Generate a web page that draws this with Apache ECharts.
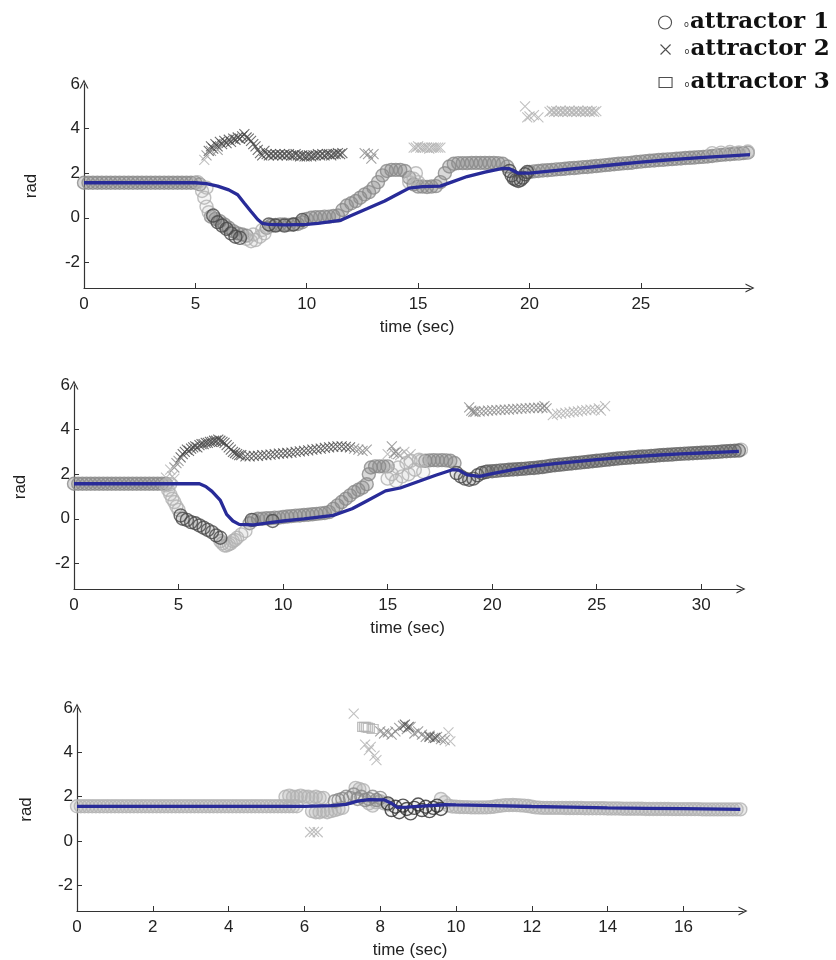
<!DOCTYPE html>
<html><head><meta charset="utf-8">
<script src="https://cdn.jsdelivr.net/npm/echarts@6/dist/echarts.min.js"></script>
<style>html,body{margin:0;padding:0;background:#fff}#c{width:836px;height:960px}</style>
</head><body><div id="c"></div>
<script>
// ---------- tick labels ----------
const P1_TIME_TICKS = [0, 5, 10, 15, 20, 25];
const P2_TIME_TICKS = [0, 5, 10, 15, 20, 25, 30];
const P3_TIME_TICKS = [0, 2, 4, 6, 8, 10, 12, 14, 16];
const RAD_TICKS = [-2, 0, 2, 4, 6];
const X_MAX = [29.9, 31.9, 17.57];
const Y_MIN = -3.15, Y_MAX = 6;
const SERIES_NAMES = ['attractor 1', 'attractor 2', 'attractor 3'];

// ---------- panel 1 (t, rad) ----------
const P1_A1_MID = [[0,1.57],[0.2,1.57],[0.4,1.57],[0.6,1.57],[0.8,1.57],[1,1.57],[1.2,1.57],[1.4,1.57],[1.6,1.57],[1.8,1.57],[2,1.57],[2.2,1.57],[2.4,1.57],[2.6,1.57],[2.8,1.57],[3,1.57],[3.2,1.57],[3.4,1.57],[3.6,1.57],[3.8,1.57],[4,1.57],[4.2,1.57],[4.4,1.57],[4.6,1.57],[4.8,1.57],[5,1.57],
[5.2,1.5],[5.7,0.05],[5.9,-0.05],[6.1,-0.15],[6.3,-0.3],[6.5,-0.45],[6.7,-0.6],[6.9,-0.7],[7.1,-0.75],[7.3,-0.8],
[8.2,-0.45],[8.4,-0.35],[8.6,-0.32],[8.8,-0.3],[9,-0.3],[9.2,-0.32],[9.4,-0.3],[9.6,-0.28],[9.8,-0.2],[10,-0.05],[10.2,0],[10.4,0.02],[10.6,0.03],[10.8,0.05],[11,0.05],[11.2,0.08],[11.4,0.1],[11.6,0.35],[11.8,0.55],[12,0.65],[12.2,0.75],[12.4,0.9],[12.6,1.05],[12.8,1.15],[13,1.35],[13.2,1.6],[13.4,1.9],[13.6,2.1],[13.8,2.15],[14,2.15],[14.2,2.15],[14.4,2.1],[14.6,1.8],[14.8,1.5],[15,1.4],[15.2,1.4],[15.4,1.38],[15.6,1.4],[15.8,1.42],[16,1.6],[16.2,2.0],[16.4,2.3],[16.6,2.42],[16.8,2.45],[17,2.45],[17.2,2.45],[17.4,2.46],[17.6,2.46],[17.8,2.46],[18,2.46],[18.2,2.46],[18.4,2.46],[18.6,2.45],[18.8,2.42],[19,2.3],
[20,2.05],[20.2,2.08],[20.4,2.1],[20.6,2.12],[20.8,2.13],[21,2.15],[21.2,2.17],[21.4,2.18],[21.6,2.2],[21.8,2.22],[22,2.23],[22.2,2.25],[22.4,2.27],[22.6,2.28],[22.8,2.3],[23,2.32],[23.2,2.34],[23.4,2.36],[23.6,2.38],[23.8,2.4],[24,2.42],[24.2,2.44],[24.4,2.45],[24.6,2.47],[24.8,2.5],[25,2.52],[25.2,2.54],[25.4,2.56],[25.6,2.57],[25.8,2.59],[26,2.6],[26.2,2.62],[26.4,2.63],[26.6,2.65],[26.8,2.66],[27,2.68],[27.2,2.69],[27.4,2.7],[27.6,2.72],[27.8,2.73],[28,2.75],[28.2,2.77],[28.4,2.8],[28.6,2.82],[28.8,2.84],[29,2.85],[29.2,2.87],[29.4,2.88],[29.6,2.9],[29.8,2.92],[30,2.95]];
const P1_A1_LIGHT = [[5.1,1.6],[5.3,1.2],[5.4,0.9],[5.5,0.5],[5.6,0.25],[5.5,1.35],[7.3,-0.95],[7.5,-1.05],[7.7,-1.0],[7.9,-0.85],[8.1,-0.7],[7.6,-0.75],[8.0,-0.55],[14.6,1.6],[14.8,1.75],[15.0,1.6],[14.9,2.0],[28.2,2.9],[28.6,2.92],[29.0,2.95],[29.4,2.93],[29.8,2.97]];
const P1_A1_DARK = [[5.8,0.1],[6.0,-0.2],[6.2,-0.35],[6.4,-0.5],[6.6,-0.7],[6.8,-0.85],[7.0,-0.9],[8.3,-0.3],[8.6,-0.35],[9.0,-0.35],[9.4,-0.3],[9.8,-0.1],[19.1,2.1],[19.2,1.9],[19.3,1.75],[19.4,1.7],[19.5,1.65],[19.6,1.7],[19.7,1.8],[19.8,1.95],[19.9,2.05]];
const P1_A2_DARK = [[5.6,3.0],[5.7,3.2],[5.8,3.1],[5.9,3.3],[6.0,3.2],[6.1,3.4],[6.2,3.3],[6.3,3.45],[6.4,3.35],[6.5,3.5],[6.6,3.4],[6.7,3.55],[6.8,3.5],[6.9,3.6],[7.0,3.55],[7.1,3.65],[7.2,3.75],[7.3,3.6],[7.4,3.55],[7.5,3.45],[7.6,3.3],[7.7,3.2],[7.8,3.05],[7.9,2.9],[8.0,2.8],[8.1,3.0],[8.2,2.85],[8.3,2.8],[8.4,2.85],[8.5,2.8],[8.6,2.85],[8.7,2.8],[8.8,2.85],[8.9,2.8],[9.0,2.85],[9.1,2.8],[9.2,2.85],[9.3,2.8],[9.4,2.8],[9.5,2.85],[9.6,2.8],[9.7,2.75],[9.8,2.8],[9.9,2.75],[10.0,2.75],[10.1,2.8],[10.2,2.75],[10.3,2.8],[10.4,2.8],[10.5,2.85],[10.6,2.8],[10.7,2.85],[10.8,2.8],[10.9,2.85],[11.0,2.85],[11.1,2.8],[11.2,2.85],[11.3,2.85],[11.4,2.9],[11.5,2.85],[11.6,2.9]];
const P1_A2_MID = [[5.5,2.8],[5.7,3.0],[6.0,3.05],[12.6,2.9],[12.75,2.85],[12.9,2.65],[13.0,2.85]];
const P1_A2_LIGHT = [[5.4,2.6],[14.8,3.15],[14.9,3.15],[15.0,3.2],[15.1,3.15],[15.2,3.15],[15.3,3.15],[15.4,3.15],[15.5,3.1],[15.6,3.15],[15.7,3.15],[15.8,3.15],[15.9,3.15],[16.0,3.15],[19.8,5.0],[19.9,4.5],[20.0,4.55],[20.2,4.6],[20.4,4.5],[20.9,4.75],[21.0,4.8],[21.1,4.75],[21.2,4.78],[21.3,4.75],[21.4,4.8],[21.5,4.75],[21.6,4.78],[21.7,4.75],[21.8,4.8],[21.9,4.75],[22.0,4.78],[22.1,4.75],[22.2,4.8],[22.3,4.75],[22.4,4.78],[22.5,4.75],[22.6,4.8],[22.7,4.75],[22.8,4.78],[22.9,4.75],[23.0,4.78]];
const P1_A3 = [[5.74,6.3],[10.66,6.3]];
const P1_LINE = [[0,1.57],[5,1.57],[5.5,1.53],[6,1.42],[6.5,1.25],[6.9,1.03],[7.2,0.65],[7.5,0.28],[7.8,-0.08],[8.0,-0.25],[8.3,-0.3],[9,-0.32],[10,-0.3],[10.5,-0.25],[11.5,-0.12],[12,0.1],[12.7,0.4],[13.5,0.75],[14.2,1.12],[14.6,1.33],[15.2,1.4],[16,1.42],[16.5,1.6],[17.2,1.85],[18,2.05],[18.8,2.22],[19.1,2.2],[19.5,2.0],[20,2.0],[21,2.1],[22,2.2],[23,2.3],[24,2.4],[25,2.5],[26,2.58],[27,2.65],[28,2.72],[29,2.78],[29.9,2.83]];

// ---------- panel 2 ----------
const P2_A1_MID = [[0,1.57],[0.2,1.57],[0.4,1.57],[0.6,1.57],[0.8,1.57],[1,1.57],[1.2,1.57],[1.4,1.57],[1.6,1.57],[1.8,1.57],[2,1.57],[2.2,1.57],[2.4,1.57],[2.6,1.57],[2.8,1.57],[3,1.57],[3.2,1.57],[3.4,1.57],[3.6,1.57],[3.8,1.57],[4,1.57],[4.2,1.57],[4.4,1.57],
[8.4,-0.2],[8.6,-0.05],[8.8,0.0],[9.0,0.0],[9.2,0.02],[9.4,0.03],[9.6,0.05],[9.8,0.05],[10.0,0.08],[10.2,0.1],[10.4,0.12],[10.6,0.14],[10.8,0.15],[11.0,0.17],[11.2,0.18],[11.4,0.2],[11.6,0.22],[11.8,0.24],[12.0,0.26],[12.2,0.3],[12.4,0.45],[12.6,0.6],[12.8,0.75],[13.0,0.9],[13.2,1.05],[13.4,1.2],[13.6,1.3],[13.8,1.4],[14.0,1.55],[14.1,2.0],[14.2,2.3],[14.4,2.35],[14.6,2.35],[14.8,2.35],[15.0,2.35],[16.8,2.6],[17.0,2.62],[17.2,2.63],[17.4,2.62],[17.6,2.63],[17.8,2.62],[18.0,2.6],[18.2,2.5]];
const P2_A1_LIGHT = [[4.4,1.5],[4.5,1.3],[4.6,1.1],[4.7,0.9],[4.8,0.75],[4.9,0.55],[5.0,0.4],[4.6,1.55],[7.0,-1.0],[7.1,-1.1],[7.2,-1.2],[7.3,-1.2],[7.4,-1.15],[7.5,-1.1],[7.6,-1.0],[7.7,-0.95],[7.8,-0.85],[8.0,-0.7],[8.2,-0.55],[15.0,1.8],[15.2,2.0],[15.4,1.7],[15.5,2.3],[15.7,1.9],[15.9,2.5],[16.0,2.0],[16.1,2.6],[16.3,2.2],[16.5,2.65],[16.7,2.1],[16.6,2.6],[31.9,3.1]];
const P2_A1_DARK = [[5.1,0.15],[5.2,0.0],[5.4,-0.05],[5.6,-0.15],[5.8,-0.2],[6.0,-0.3],[6.2,-0.4],[6.4,-0.5],[6.6,-0.6],[6.8,-0.75],[7.0,-0.85],[8.5,-0.05],[9.5,-0.1],[18.3,2.05],[18.5,1.9],[18.7,1.8],[18.9,1.75],[19.1,1.8],[19.3,1.95],[19.5,2.05],[19.7,2.1]];
const P2_A1_BAND = [[19.8,2.12],[20.0,2.13],[20.2,2.15],[20.4,2.17],[20.6,2.18],[20.8,2.2],[21.0,2.21],[21.2,2.22],[21.4,2.24],[21.6,2.25],[21.8,2.27],[22.0,2.28],[22.2,2.3],[22.4,2.32],[22.6,2.35],[22.8,2.38],[23.0,2.4],[23.2,2.42],[23.4,2.44],[23.6,2.46],[23.8,2.48],[24.0,2.5],[24.2,2.52],[24.4,2.54],[24.6,2.56],[24.8,2.58],[25.0,2.6],[25.2,2.62],[25.4,2.64],[25.6,2.66],[25.8,2.68],[26.0,2.7],[26.2,2.72],[26.4,2.73],[26.6,2.75],[26.8,2.76],[27.0,2.78],[27.2,2.79],[27.4,2.8],[27.6,2.82],[27.8,2.83],[28.0,2.85],[28.2,2.86],[28.4,2.87],[28.6,2.88],[28.8,2.9],[29.0,2.91],[29.2,2.92],[29.4,2.93],[29.6,2.94],[29.8,2.95],[30.0,2.96],[30.2,2.97],[30.4,2.98],[30.6,2.99],[30.8,3.0],[31.0,3.02],[31.2,3.03],[31.4,3.04],[31.6,3.05],[31.8,3.06]];
const P2_A2_DARK = [[5.1,2.75],[5.2,2.9],[5.3,3.0],[5.4,3.1],[5.5,3.05],[5.6,3.15],[5.7,3.2],[5.8,3.25],[5.9,3.2],[6.0,3.3],[6.1,3.35],[6.2,3.35],[6.3,3.4],[6.4,3.4],[6.5,3.45],[6.6,3.45],[6.7,3.5],[6.8,3.5],[6.9,3.55],[7.0,3.5],[7.1,3.45],[7.2,3.4],[7.3,3.3],[7.4,3.2],[7.5,3.1],[7.6,3.0],[7.7,2.95],[7.8,2.9],[7.9,2.85],[8.0,2.85],[8.2,2.8],[8.4,2.8],[8.6,2.82],[8.8,2.82],[9.0,2.85],[9.2,2.85],[9.4,2.88],[9.6,2.9],[9.8,2.92],[10.0,2.93],[10.2,2.95],[10.4,2.97],[10.6,3.0],[10.8,3.02],[11.0,3.05],[11.2,3.07],[11.4,3.1],[11.6,3.12],[11.8,3.15],[12.0,3.18],[12.2,3.2],[12.4,3.22],[12.6,3.25],[12.8,3.25],[13.0,3.22],[13.2,3.2],[9.4,6.1]];
const P2_A2_MID = [[4.8,2.3],[4.9,2.5],[5.0,2.6],[13.4,3.15],[13.6,3.1],[13.8,3.05],[14.0,3.1],[15.2,3.25],[15.3,2.95],[15.4,3.0],[15.5,2.9],[18.9,5.0],[19.0,4.85],[19.1,4.8],[19.2,4.8],[19.4,4.82],[19.6,4.83],[19.8,4.85],[20.0,4.86],[20.2,4.87],[20.4,4.88],[20.6,4.9],[20.8,4.9],[21.0,4.92],[21.2,4.93],[21.4,4.94],[21.6,4.95],[21.8,4.96],[22.0,4.97],[22.2,4.98],[22.4,4.98],[22.5,5.05],[22.6,4.95]];
const P2_A2_LIGHT = [[4.4,1.85],[4.6,2.2],[4.7,1.9],[4.8,1.8],[15.0,2.9],[15.6,2.85],[15.8,3.0],[16.0,2.8],[16.1,2.9],[22.9,4.65],[23.1,4.7],[23.3,4.72],[23.5,4.75],[23.7,4.77],[23.9,4.8],[24.1,4.82],[24.3,4.85],[24.5,4.87],[24.7,4.9],[24.9,4.9],[25.1,4.95],[25.2,4.85],[25.4,5.05]];
const P2_LINE = [[0,1.57],[6,1.57],[6.3,1.45],[6.6,1.23],[7.0,0.82],[7.3,0.2],[7.6,-0.1],[7.9,-0.25],[8.6,-0.27],[9.2,-0.2],[10,-0.1],[11,0.0],[12.4,0.15],[13.3,0.45],[14,0.8],[14.9,1.25],[15.6,1.38],[16.5,1.68],[17.3,1.95],[18.1,2.2],[18.4,2.18],[18.8,1.97],[19.4,1.9],[20,2.02],[21,2.2],[21.9,2.35],[23,2.47],[24,2.56],[25,2.65],[26,2.73],[27,2.8],[28,2.86],[29,2.91],[30,2.95],[31,2.99],[31.8,3.02]];

// ---------- panel 3 ----------
const P3_A1_LIGHT = [[0,1.57],[0.1,1.57],[0.2,1.57],[0.3,1.57],[0.4,1.57],[0.5,1.57],[0.6,1.57],[0.7,1.57],[0.8,1.57],[0.9,1.57],[1,1.57],[1.1,1.57],[1.2,1.57],[1.3,1.57],[1.4,1.57],[1.5,1.57],[1.6,1.57],[1.7,1.57],[1.8,1.57],[1.9,1.57],[2,1.57],[2.1,1.57],[2.2,1.57],[2.3,1.57],[2.4,1.57],[2.5,1.57],[2.6,1.57],[2.7,1.57],[2.8,1.57],[2.9,1.57],[3,1.57],[3.1,1.57],[3.2,1.57],[3.3,1.57],[3.4,1.57],[3.5,1.57],[3.6,1.57],[3.7,1.57],[3.8,1.57],[3.9,1.57],[4,1.57],[4.1,1.57],[4.2,1.57],[4.3,1.57],[4.4,1.57],[4.5,1.57],[4.6,1.57],[4.7,1.57],[4.8,1.57],[4.9,1.57],[5,1.57],[5.1,1.57],[5.2,1.57],[5.3,1.57],[5.4,1.57],[5.5,1.57],[5.6,1.57],[5.7,1.57],[5.8,1.57],
[5.5,2.0],[5.6,2.05],[5.7,2.0],[5.8,2.0],[5.9,2.05],[6.0,2.0],[6.1,2.0],[6.2,1.95],[6.3,2.0],[6.4,1.95],[6.5,1.95],[6.2,1.35],[6.3,1.3],[6.4,1.3],[6.5,1.35],[6.6,1.3],[6.7,1.35],[6.8,1.4],[6.9,1.45],[7.0,1.5],[7.35,2.4],[7.45,2.35],[7.55,2.3],[7.7,1.7],[7.8,1.6],[7.9,1.75],[8.0,1.8],[8.1,1.7],[8.2,1.65],[9.6,1.9],[9.7,1.75],[9.8,1.6],
[9.9,1.56],[10,1.55],[10.1,1.54],[10.2,1.53],[10.3,1.53],[10.4,1.52],[10.5,1.52],[10.6,1.52],[10.7,1.52],[10.8,1.52],[10.9,1.53],[11,1.55],[11.1,1.58],[11.2,1.6],[11.3,1.62],[11.4,1.62],[11.5,1.63],[11.6,1.62],[11.7,1.61],[11.8,1.6],[11.9,1.58],[12,1.55],[12.1,1.52],[12.2,1.51],[12.3,1.5],[12.4,1.5],[12.5,1.5],[12.6,1.5],[12.7,1.5],[12.8,1.5],[12.9,1.49],[13,1.49],[13.1,1.49],[13.2,1.49],[13.3,1.49],[13.4,1.48],[13.5,1.48],[13.6,1.48],[13.7,1.48],[13.8,1.48],[13.9,1.48],[14,1.47],[14.1,1.47],[14.2,1.47],[14.3,1.47],[14.4,1.46],[14.5,1.46],[14.6,1.46],[14.7,1.46],[14.8,1.46],[14.9,1.46],[15,1.45],[15.1,1.45],[15.2,1.45],[15.3,1.45],[15.4,1.45],[15.5,1.45],[15.6,1.45],[15.7,1.44],[15.8,1.44],[15.9,1.44],[16,1.44],[16.1,1.44],[16.2,1.44],[16.3,1.44],[16.4,1.44],[16.5,1.43],[16.6,1.43],[16.7,1.43],[16.8,1.43],[16.9,1.43],[17,1.43],[17.1,1.43],[17.2,1.43],[17.3,1.43],[17.4,1.43],[17.5,1.43],[17.6,1.43]];
const P3_A1_MID = [[6.8,1.8],[6.9,1.85],[7.0,1.9],[7.1,2.0],[7.2,1.95],[7.3,2.1],[7.4,1.9],[7.5,2.0],[7.6,1.85],[7.7,1.9],[7.8,2.0],[7.9,1.85],[8.0,1.95]];
const P3_A1_DARK = [[8.2,1.7],[8.3,1.4],[8.4,1.55],[8.5,1.3],[8.6,1.6],[8.7,1.45],[8.8,1.25],[8.9,1.5],[9.0,1.65],[9.1,1.4],[9.2,1.55],[9.3,1.35],[9.4,1.5],[9.5,1.6],[9.6,1.45]];
const P3_A2_LIGHT = [[6.15,0.4],[6.25,0.42],[6.35,0.4],[7.25,6.15],[7.3,5.75],[7.6,4.35],[7.7,4.1],[7.75,4.25],[7.85,3.85],[7.9,3.65],[9.8,4.9],[9.85,4.5]];
const P3_A2_MID = [[8.0,4.95],[8.1,4.85],[8.2,4.9],[8.3,4.8],[8.4,4.95],[8.5,5.1],[8.6,5.2],[8.7,5.05],[8.8,5.15],[8.9,4.85],[9.0,4.95],[9.1,4.8],[9.2,4.7],[9.3,4.75],[9.4,4.65],[9.5,4.7],[9.6,4.6],[9.7,4.55]];
const P3_A2_DARK = [[8.65,5.25],[8.75,5.15],[9.3,4.7],[9.45,4.65]];
const P3_A3 = [[7.55,5.15],[7.6,5.15],[7.65,5.12],[7.7,5.1],[7.8,5.05]];
const P3_LINE = [[0,1.57],[6,1.57],[6.7,1.6],[7.1,1.66],[7.4,1.8],[7.7,1.87],[8.1,1.86],[8.3,1.7],[8.45,1.52],[8.7,1.53],[9,1.57],[9.7,1.64],[10,1.63],[11,1.6],[12,1.56],[13,1.53],[14,1.5],[15,1.48],[16,1.46],[17.5,1.43]];

// ---------- styling ----------
const LIGHT = '#b2b2b2', MID = '#8a8a8a', DARK = '#4a4a4a', BAND = '#666666', BLUE = '#282b98';
const X_PATH = 'path://M0,0L10,10M10,0L0,10';
const ARROW = 'path://M0,10L5,0L10,10L8.6,10L5,2.8L1.4,10Z';
const FONT = 'Liberation Sans, Arial, sans-serif';

const grids = [
  {left: 84, top: 84, width: 666, height: 204},
  {left: 74, top: 385, width: 667, height: 204},
  {left: 77, top: 708, width: 666, height: 204}
];
const xTicks = [P1_TIME_TICKS, P2_TIME_TICKS, P3_TIME_TICKS];
const nameGapY = [44, 45, 42];

const axisLine = {show: true, onZero: false, lineStyle: {color: '#333', width: 1.2}, symbol: ['none', ARROW], symbolSize: [10, 9]};
const xAxis = grids.map((g, i) => ({
  type: 'value', gridIndex: i, min: 0, max: X_MAX[i],
  name: 'time (sec)', nameLocation: 'middle', nameGap: 31,
  nameTextStyle: {fontFamily: FONT, fontSize: 17, color: '#222'},
  axisLine: axisLine,
  axisTick: {show: true, inside: true, length: 5, lineStyle: {color: '#333'}, customValues: xTicks[i].slice(1)},
  axisLabel: {fontFamily: FONT, fontSize: 17, color: '#222', margin: 8, customValues: xTicks[i]},
  splitLine: {show: false}
}));
const yAxis = grids.map((g, i) => ({
  type: 'value', gridIndex: i, min: Y_MIN, max: Y_MAX,
  name: 'rad', nameLocation: 'middle', nameGap: nameGapY[i],
  nameTextStyle: {fontFamily: FONT, fontSize: 17, color: '#222'},
  axisLine: axisLine,
  axisTick: {show: true, inside: true, length: 5, lineStyle: {color: '#333'}, customValues: RAD_TICKS.slice(0, 4)},
  axisLabel: {fontFamily: FONT, fontSize: 17, color: '#222', margin: 4, customValues: RAD_TICKS},
  splitLine: {show: false}
}));

function fillOf(hex, a) {
  const n = parseInt(hex.slice(1), 16);
  return 'rgba(' + (n >> 16) + ',' + ((n >> 8) & 255) + ',' + (n & 255) + ',' + a + ')';
}
function sc(name, data, gi, symbol, color, size, bw, fillA) {
  return {type: 'scatter', name, data, xAxisIndex: gi, yAxisIndex: gi, symbol, symbolSize: size,
    itemStyle: {color: fillA ? fillOf(color, fillA) : 'rgba(0,0,0,0)', borderColor: color, borderWidth: bw || 1.3},
    emphasis: {disabled: true}, silent: true, z: 2, animation: false};
}
function circ(data, gi, color, a) { return sc(SERIES_NAMES[0], data, gi, 'circle', color, 13, 1.4, a); }
function cross(data, gi, color) { return sc(SERIES_NAMES[1], data, gi, X_PATH, color, 10, 1.1); }
function sq(data, gi) { return sc(SERIES_NAMES[2], data, gi, 'rect', LIGHT, [11, 9], 1.2); }
function ln(data, gi) {
  return {type: 'line', name: 'trajectory', data, xAxisIndex: gi, yAxisIndex: gi, showSymbol: false,
    lineStyle: {color: BLUE, width: 3.3}, itemStyle: {color: BLUE}, z: 5, silent: true, animation: false};
}
const series = [
  circ(P1_A1_MID, 0, MID, 0.4), circ(P1_A1_LIGHT, 0, LIGHT, 0.15), circ(P1_A1_DARK, 0, DARK, 0.15),
  cross(P1_A2_DARK, 0, DARK), cross(P1_A2_MID, 0, MID), cross(P1_A2_LIGHT, 0, LIGHT),
  sq(P1_A3, 0),
  ln(P1_LINE, 0),
  circ(P2_A1_MID, 1, MID, 0.4), circ(P2_A1_LIGHT, 1, LIGHT, 0.15), circ(P2_A1_DARK, 1, DARK, 0.15), circ(P2_A1_BAND, 1, BAND, 0.45),
  cross(P2_A2_DARK, 1, DARK), cross(P2_A2_MID, 1, MID), cross(P2_A2_LIGHT, 1, LIGHT),
  ln(P2_LINE, 1),
  circ(P3_A1_LIGHT, 2, LIGHT, 0.35), circ(P3_A1_MID, 2, MID, 0.15), circ(P3_A1_DARK, 2, '#2e2e2e', 0.05),
  cross(P3_A2_LIGHT, 2, LIGHT), cross(P3_A2_MID, 2, MID), cross(P3_A2_DARK, 2, DARK),
  sq(P3_A3, 2),
  ln(P3_LINE, 2)
];

const legendIcons = ['circle', X_PATH, 'rect'];
const legendTop = [6, 33, 66];
const legendSize = [[14, 13], [10, 10], [13, 10]];
const legend = SERIES_NAMES.map((n, i) => ({
  left: 660 - legendSize[i][0] / 2, top: legendTop[i], orient: 'vertical', selectedMode: false,
  itemWidth: legendSize[i][0], itemHeight: legendSize[i][1], itemGap: 0,
  data: [{name: n, icon: legendIcons[i], itemStyle: {color: 'rgba(0,0,0,0)', borderColor: '#222', borderWidth: 1.1}}],
  formatter: '{d|o}{t|{name}}',
  textStyle: {
    color: '#111',
    rich: {
      d: {fontSize: 8, fontFamily: 'DejaVu Sans', color: '#333', verticalAlign: 'bottom', padding: [0, 1, 5, 14 - legendSize[i][0] / 2]},
      t: {fontSize: 23, fontWeight: 'bold', fontFamily: 'DejaVu Serif', color: '#111', verticalAlign: 'bottom'}
    }
  }
}));

const chart = echarts.init(document.getElementById('c'), null, {renderer: 'canvas'});
chart.setOption({
  animation: false,
  backgroundColor: '#fff',
  grid: grids,
  xAxis, yAxis, legend, series
});
</script></body></html>
